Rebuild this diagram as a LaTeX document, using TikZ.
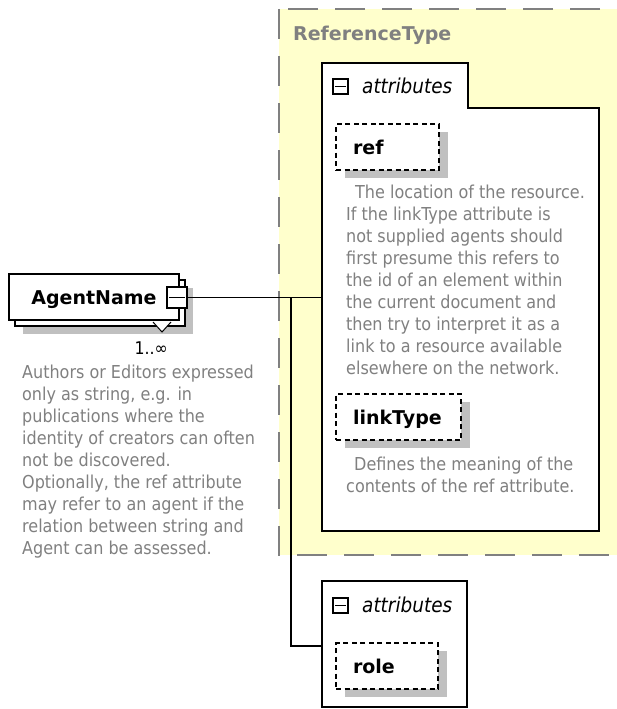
\documentclass[tikz,border=0pt]{standalone}
\usepackage{fontspec}
\setmainfont{DejaVu Sans Condensed}
\newfontfamily\boldsans{DejaVu Sans}
\usepackage{xcolor}
\usepackage{tikz}
\usetikzlibrary{shadows,calc,positioning}

\definecolor{typeyellow}{RGB}{255,255,204}
\definecolor{descgray}{RGB}{128,128,128}
\definecolor{shadowgray}{RGB}{192,192,192}

\begin{document}
\begin{tikzpicture}[x=1pt,y=-1pt,
  typebox/.style={draw=descgray,line width=2pt,dash pattern=on 30pt off 17pt,fill=typeyellow},
  group/.style={draw,line width=2pt,fill=white},
  link/.style={line width=1.5pt},
  minus/.style={draw,line width=1.2pt,fill=white,inner sep=0pt,minimum width=#1,minimum height=#1,
    path picture={\draw[line width=1.2pt] ([xshift=2pt]path picture bounding box.west) -- ([xshift=-2pt]path picture bounding box.east);}},
  namefont/.style={font=\boldsans\bfseries\fontsize{19}{22}\selectfont},
  attr/.style={draw,line width=2pt,dash pattern=on 5pt off 3.5pt,fill=white,anchor=north west,
    inner xsep=17pt,inner ysep=0pt,minimum height=46pt,text width=#1,align=left,namefont,
    text height=16pt,text depth=2pt,
    drop shadow={shadow xshift=9pt,shadow yshift=-8pt,fill=shadowgray,opacity=1}},
  desc/.style={anchor=north west,inner sep=0pt,align=left,text=descgray,font=\fontsize{17.8}{22}\selectfont},
  grouplabel/.style={anchor=base west,inner sep=0pt,font=\itshape\fontsize{20.5}{22}\selectfont}]

\useasboundingbox (0,0) rectangle (617,709);

% complex type frame
\draw[typebox] (279,9) rectangle (622,555);
\node[anchor=base west,inner sep=0pt,namefont,text=descgray] (typename) at (293,41) {ReferenceType};

% attribute group of ReferenceType
\coordinate (attrA) at (322,63);
\draw[group] (attrA) -- (468,63) -- (468,108) -- (599,108) -- (599,531) -- (322,531) -- cycle;
\node[minus=15pt] (attrAminus) at (340.5,86.5) {};
\node[grouplabel] (attrAname) at (362,93) {attributes};

\node[attr=69pt] (ref) at (335,123) {ref};
\node[desc] (refdesc) at (346,184.5) {\hspace*{9pt}The location of the resource.\\
  If the linkType attribute is\\
  not supplied agents should\\
  first presume this refers to\\
  the id of an element within\\
  the current document and\\
  then try to interpret it as a\\
  link to a resource available\\
  elsewhere on the network.};

\node[attr=91pt] (linktype) at (335,393) {linkType};
\node[desc] (linktypedesc) at (346,456.5) {\hspace*{8pt}Defines the meaning of the\\
  contents of the ref attribute.};

% element
\node[draw,line width=2pt,fill=white,anchor=north west,minimum width=170pt,minimum height=46pt,
  inner sep=0pt,namefont,text height=16pt,text depth=2pt,
  drop shadow={shadow xshift=14pt,shadow yshift=-14pt,fill=shadowgray,opacity=1},
  copy shadow={shadow xshift=6pt,shadow yshift=-6pt,draw,line width=2pt,fill=white}]
  (agent) at (8,273) {AgentName};
\draw[line width=1pt,fill=white] ([shift={(-27,1)}]agent.south east) -- ([shift={(-18,11)}]agent.south east)
  -- ([shift={(-9,1)}]agent.south east);
\node[draw,line width=1.2pt,fill=white,inner sep=0pt,minimum width=20pt,minimum height=21pt,
  path picture={\draw[line width=1.2pt] ([xshift=2pt]path picture bounding box.west) -- ([xshift=-2pt]path picture bounding box.east);}]
  (agentminus) at (177,297.5) {};
\node[anchor=base east,inner sep=0pt,font=\fontsize{17.5}{20}\selectfont] (agentmult) at (168,354) {1..∞};
\node[desc] (agentdesc) at (22,364.5) {Authors or Editors expressed\\
  only as string, e.g. in\\
  publications where the\\
  identity of creators can often\\
  not be discovered.\\
  Optionally, the ref attribute\\
  may refer to an agent if the\\
  relation between string and\\
  Agent can be assessed.};

% attribute group of the element
\coordinate (attrB) at (322,581);
\draw[group] (attrB) rectangle (467,707);
\node[minus=15pt] (attrBminus) at (340.5,605.5) {};
\node[grouplabel] (attrBname) at (362,612) {attributes};
\node[attr=68pt] (role) at (335,642) {role};

% connectors
\coordinate (split) at (291,297.5);
\coordinate (attrBin) at (322,646);
\draw[link] (agentminus.east) -- (agentminus.east -| attrA);
\draw[link] (split) |- (attrBin);

\end{tikzpicture}
\end{document}
